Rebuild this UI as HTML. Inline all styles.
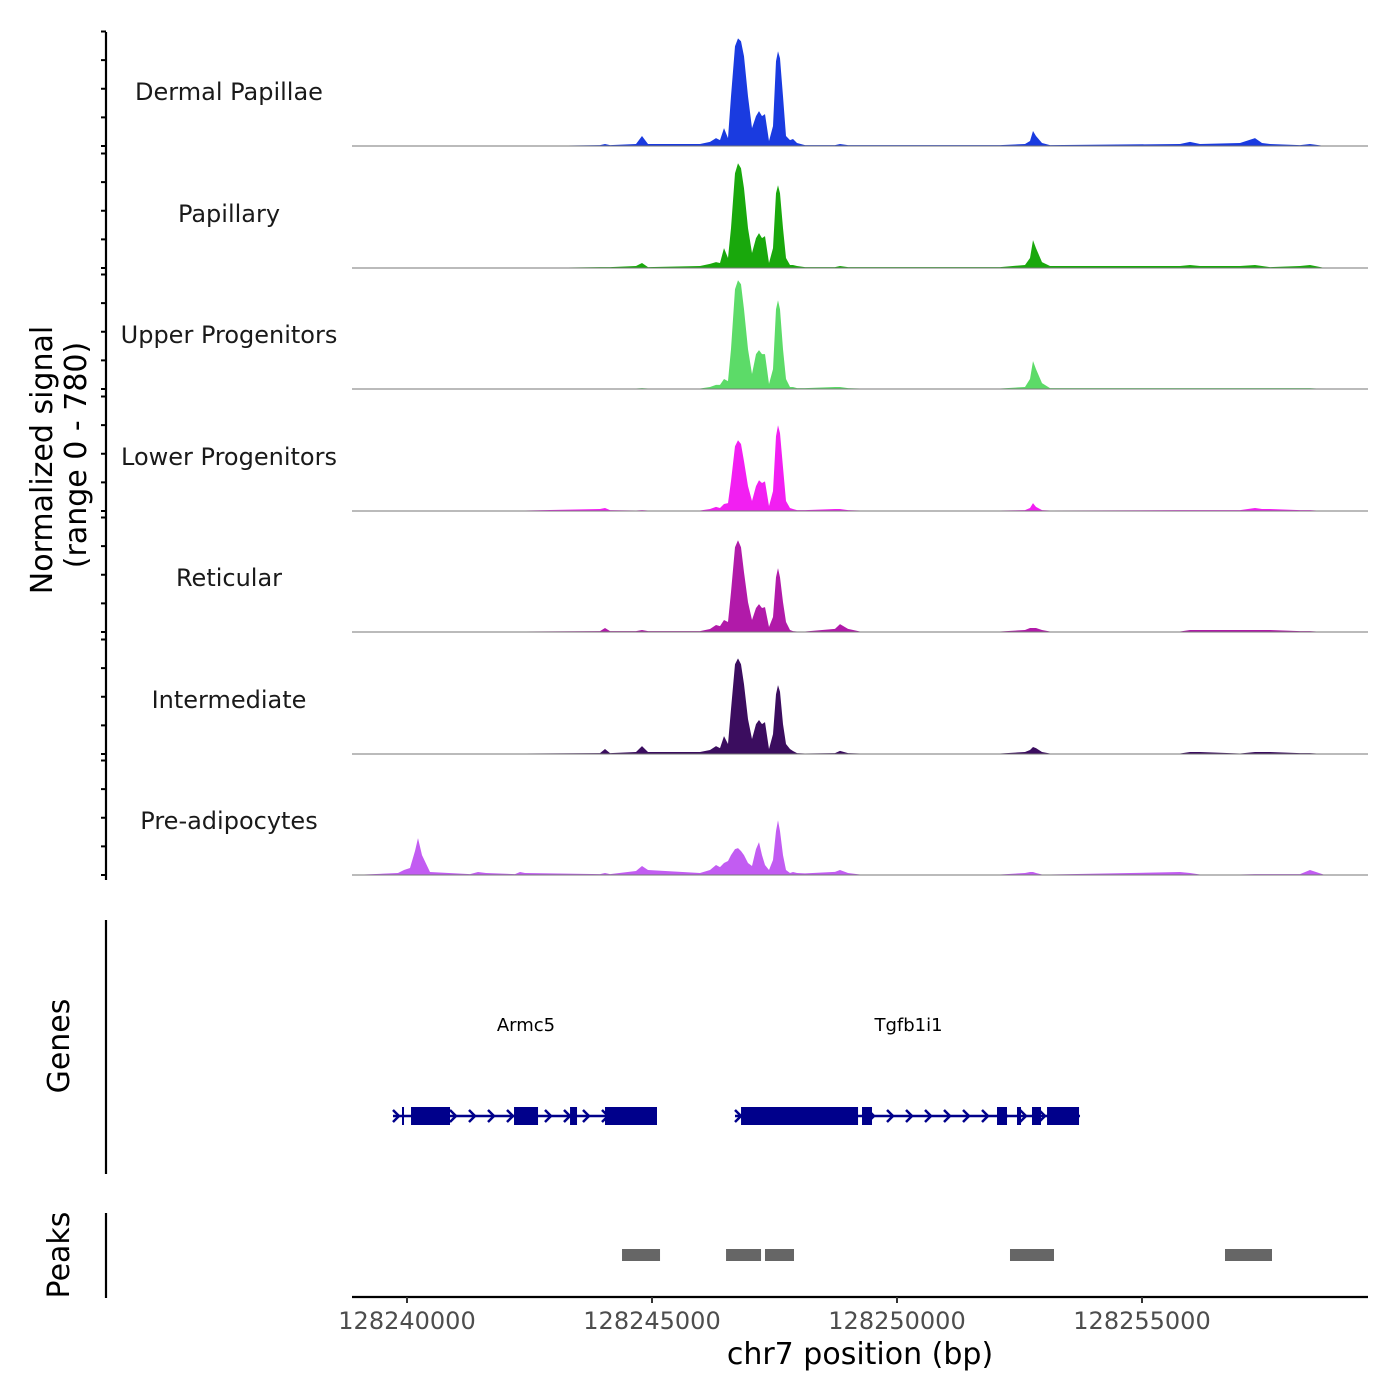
<!DOCTYPE html>
<html><head><meta charset="utf-8"><style>
html,body{margin:0;padding:0;background:#fff;}
svg{display:block;font-family:"DejaVu Sans","Liberation Sans",sans-serif;}
</style></head><body>
<svg id="c" width="1400" height="1400" viewBox="0 0 1400 1400"></svg>
<script>
const positions=[128238878,128239816,128239939,128240061,128240163,128240224,128240306,128240469,128241286,128241449,128241612,128242204,128242306,128242408,128243939,128244041,128244143,128244673,128244796,128244918,128245980,128246184,128246306,128246388,128246469,128246551,128246612,128246694,128246755,128246816,128246878,128246959,128247041,128247122,128247184,128247245,128247306,128247388,128247469,128247531,128247571,128247612,128247673,128247735,128247816,128247878,128247959,128248122,128248735,128248837,128249000,128249245,128252102,128252612,128252714,128252776,128252837,128252959,128253122,128255775,128255980,128256184,128257000,128257306,128257449,128257612,128258224,128258428,128258735];
const trackNames=["Dermal Papillae","Papillary","Upper Progenitors","Lower Progenitors","Reticular","Intermediate","Pre-adipocytes"];
const trackColors=["#1a3be0","#19a80c","#5cdb68","#f21ff2","#b11aa9","#3b0d5f","#c25cf2"];
const sigDP=[0,0,0,0,0,0,0,0,0,0,0,0,0,0,6,13,6,13,64,13,13,26,51,38,115,51,320,640,691,672,576,320,115,192,224,192,205,32,128,544,608,563,320,64,38,45,19,6,6,13,6,6,6,13,32,96,64,19,6,13,26,13,19,51,19,13,6,13,0];
const sigPap=[0,0,0,0,0,0,0,0,0,0,0,0,0,0,6,6,6,13,32,6,13,26,38,32,128,64,256,608,672,640,512,256,96,192,224,192,205,32,128,480,531,480,256,64,19,19,13,6,6,13,6,6,6,19,64,179,128,38,13,13,19,13,13,19,13,6,13,19,0];
const sigUp=[0,0,0,0,0,0,0,0,0,0,0,0,0,0,3,3,3,3,6,3,3,13,26,26,64,51,256,640,698,672,512,256,96,224,250,224,224,32,128,512,570,512,256,64,13,13,6,6,13,13,6,3,3,13,64,179,128,38,6,6,6,6,6,6,6,6,6,6,0];
const sigLow=[0,3,3,3,3,3,3,3,3,3,3,3,3,3,13,19,6,3,6,3,3,13,26,19,45,51,192,416,454,430,320,160,64,160,198,180,190,32,128,480,550,500,280,64,19,13,6,6,13,13,6,3,3,6,19,51,26,6,3,6,6,6,6,19,13,13,6,6,0];
const sigRet=[0,3,3,3,3,3,3,3,3,3,3,3,3,3,6,26,6,6,13,6,6,19,45,38,77,64,256,544,589,544,384,192,77,154,179,154,160,32,96,352,410,352,192,64,13,6,3,3,20,51,20,3,3,13,26,26,26,13,3,3,13,13,13,13,13,13,6,6,0];
const sigInt=[0,3,3,3,3,3,3,3,3,3,3,3,3,3,6,32,6,13,51,13,13,26,51,38,115,64,288,576,614,576,448,224,96,192,218,192,205,32,128,384,442,400,192,64,32,19,6,3,6,20,6,3,3,13,26,45,38,13,3,3,13,13,3,13,13,13,6,6,0];
const sigPre=[0,13,32,45,154,237,128,19,6,19,13,6,19,13,6,13,6,26,58,32,13,32,64,51,77,90,128,166,173,154,128,77,58,166,211,128,64,32,96,282,352,282,128,32,13,19,13,10,20,32,13,3,3,13,19,19,13,3,3,19,13,3,3,6,6,6,6,32,0];
const signals=[sigDP,sigPap,sigUp,sigLow,sigRet,sigInt,sigPre];
const xTicks=[128240000,128245000,128250000,128255000];
const armc5Range=[128239714,128245102];
const armc5Exons=[[128239898,128239939],[128240082,128240878],[128242184,128242674],[128243327,128243470],[128244041,128245102]];
const tgfRange=[128246694,128253735];
const tgfExons=[[128246817,128249205],[128249286,128249490],[128252041,128252245],[128252449,128252531],[128252755,128252939],[128253062,128253715]];
const peakRegions=[[128244388,128245164],[128246511,128247225],[128247306,128247898],[128252306,128253204],[128256694,128257653]];
const yMax=780;

const NS="http://www.w3.org/2000/svg";
const svg=document.getElementById('c');
function el(tag,attrs,parent){const e=document.createElementNS(NS,tag);for(const k in attrs)e.setAttribute(k,attrs[k]);(parent||svg).appendChild(e);return e;}
const X0=352,X1=1368;
function xs(bp){return 407+(bp-128240000)*0.049;}
const baselines=[146,268,389,511,632,754,875];
const trackH=121.5;
function ys(v,i){return baselines[i]-v/yMax*trackH;}

let a=el('line',{x1:106,y1:32,x2:106,y2:880,stroke:'#000','stroke-width':2.2});

for(let i=0;i<7;i++){
  const top=baselines[i]-trackH+7;
  for(let k=0;k<=4;k++){
    const y=baselines[i]-(baselines[i]-top)*k/4;
    const t=el('line',{x1:101,y1:y,x2:106,y2:y,stroke:'#000','stroke-width':2});
    
  }
}
for(let i=0;i<7;i++){
  const g=el('g',{});
  
  
  let d='M'+xs(positions[0])+','+baselines[i];
  for(let j=0;j<positions.length;j++)d+=' L'+xs(positions[j]).toFixed(1)+','+ys(signals[i][j],i).toFixed(1);
  d+=' L'+xs(positions[positions.length-1])+','+baselines[i]+'Z';
  const p=el('path',{d:d,fill:trackColors[i]},g);
  
  const b=el('line',{x1:X0,y1:baselines[i],x2:X1,y2:baselines[i],stroke:'#777','stroke-width':1},g);
  
  const t=el('text',{x:229,y:baselines[i]-46,'text-anchor':'middle','font-size':24,fill:'#1a1a1a'},g);
  t.textContent=trackNames[i];
  
}
let yt=el('text',{transform:'translate(52,460) rotate(-90)','text-anchor':'middle','font-size':30});
yt.textContent='Normalized signal';
yt=el('text',{transform:'translate(86,455) rotate(-90)','text-anchor':'middle','font-size':30});
yt.textContent='(range 0 - 780)';

a=el('line',{x1:106,y1:920,x2:106,y2:1174,stroke:'#000','stroke-width':2.2});

yt=el('text',{transform:'translate(69,1046) rotate(-90)','text-anchor':'middle','font-size':30});
yt.textContent='Genes';
const GN='#00008b';
function gene(name,range,exons){
  const g=el('g',{});
  
  
  const x1=xs(range[0]),x2=xs(range[1]);
  el('line',{x1:x1,y1:1116,x2:x2,y2:1116,stroke:GN,'stroke-width':2.5},g);
  for(let x=x1+3;x<x2-5;x+=19){
    el('path',{d:`M${x-3},${1110} L${x+3},1116 L${x-3},1122`,stroke:GN,'stroke-width':2.5,fill:'none'},g);
  }
  for(const e of exons){
    const r=el('rect',{x:xs(e[0]),y:1107,width:Math.max(2,xs(e[1])-xs(e[0])),height:18,fill:GN},g);
    
  }
  const t=el('text',{x:(x1+x2)/2+1,y:1031,'text-anchor':'middle','font-size':18,fill:'#000'},g);
  t.textContent=name;
  
}
gene('Armc5',armc5Range,armc5Exons);
gene('Tgfb1i1',tgfRange,tgfExons);

a=el('line',{x1:106,y1:1213,x2:106,y2:1298,stroke:'#000','stroke-width':2.2});

yt=el('text',{transform:'translate(69,1255) rotate(-90)','text-anchor':'middle','font-size':30});
yt.textContent='Peaks';
for(const p of peakRegions){
  const r=el('rect',{x:xs(p[0]),y:1249,width:xs(p[1])-xs(p[0]),height:12,fill:'#666'});
  
}
a=el('line',{x1:X0,y1:1297,x2:X1,y2:1297,stroke:'#000','stroke-width':2.2});

for(const t of xTicks){
  const l=el('line',{x1:xs(t),y1:1297,x2:xs(t),y2:1303,stroke:'#333','stroke-width':2});
  
  const tx=el('text',{x:xs(t),y:1329,'text-anchor':'middle','font-size':24,fill:'#4d4d4d'});
  tx.textContent=String(t);
  
}
yt=el('text',{x:860,y:1364,'text-anchor':'middle','font-size':30});
yt.textContent='chr7 position (bp)';
</script>
</body></html>
